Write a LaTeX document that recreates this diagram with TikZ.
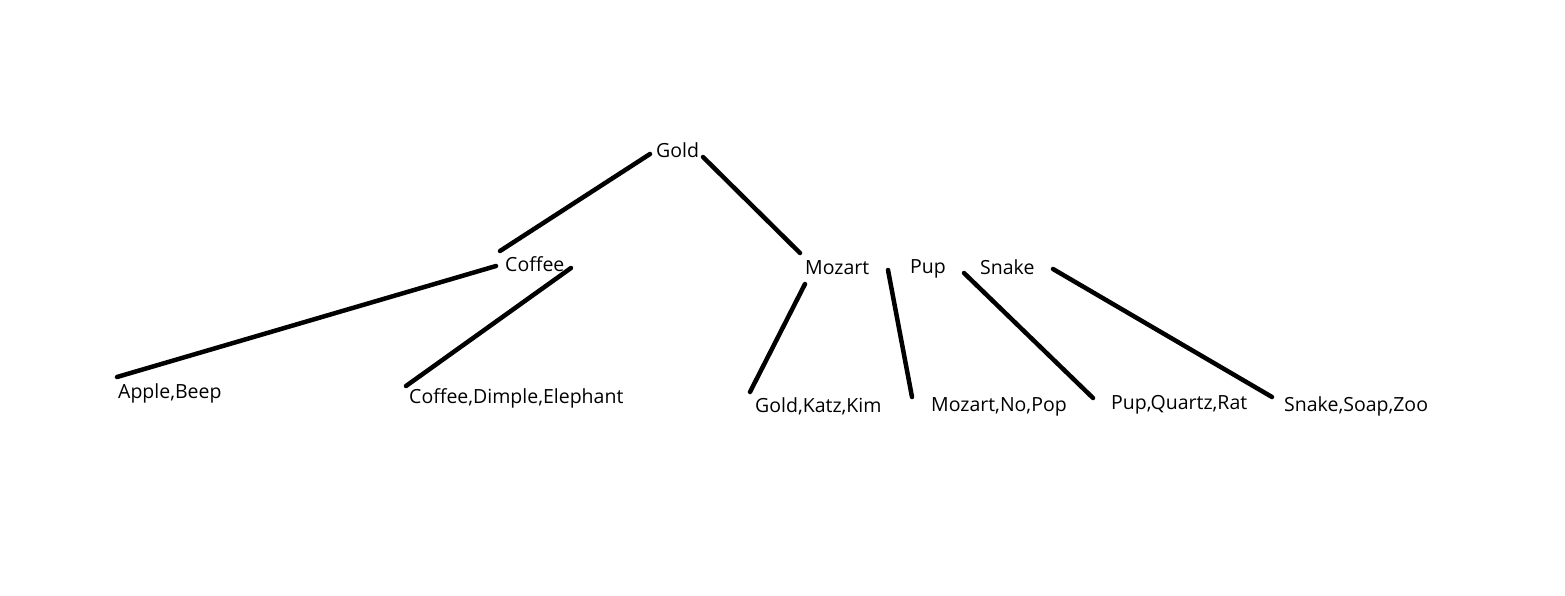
\documentclass[tikz,border=0pt]{standalone}
\usepackage{fontspec}
\setmainfont{Open Sans}
\begin{document}
\begin{tikzpicture}[x=1pt,y=-1pt,
  lbl/.style={inner sep=0pt,anchor=west,font=\fontsize{19.5}{22}\selectfont},
  edge/.style={line width=4.5pt,line cap=round}]
\useasboundingbox[fill=white] (0,0) rectangle (1565,595);
% internal nodes
\node[lbl] (gold) at (656,150) {Gold};
\node[lbl] (coffee) at (505,264) {Coffee};
\node[lbl] (mozart) at (805,268) {Mozart};
\node[lbl] (pup) at (910,269) {Pup};
\node[lbl] (snake) at (980,267) {Snake};
% leaves
\node[lbl] (l1) at (118,393) {Apple,Beep};
\node[lbl] (l2) at (409,398) {Coffee,Dimple,Elephant};
\node[lbl] (l3) at (755,406) {Gold,Katz,Kim};
\node[lbl] (l4) at (931,407) {Mozart,No,Pop};
\node[lbl] (l5) at (1111,405) {Pup,Quartz,Rat};
\node[lbl] (l6) at (1284,406) {Snake,Soap,Zoo};
% connector ends
\coordinate (g1) at (650,154);
\coordinate (c0) at (500,251);
\coordinate (g2) at (703,157);
\coordinate (m0) at (800,253);
\coordinate (c1) at (496,266);
\coordinate (a1) at (117,377);
\coordinate (c2) at (571,268);
\coordinate (a2) at (406,386);
\coordinate (m1) at (805,284);
\coordinate (a3) at (750,392);
\coordinate (m2) at (888,270);
\coordinate (a4) at (912,397);
\coordinate (s1) at (964,273);
\coordinate (a5) at (1093,398);
\coordinate (s2) at (1053,269);
\coordinate (a6) at (1272,397);
\draw[edge] (g1) -- (c0);
\draw[edge] (g2) -- (m0);
\draw[edge] (c1) -- (a1);
\draw[edge] (c2) -- (a2);
\draw[edge] (m1) -- (a3);
\draw[edge] (m2) -- (a4);
\draw[edge] (s1) -- (a5);
\draw[edge] (s2) -- (a6);
\end{tikzpicture}
\end{document}
